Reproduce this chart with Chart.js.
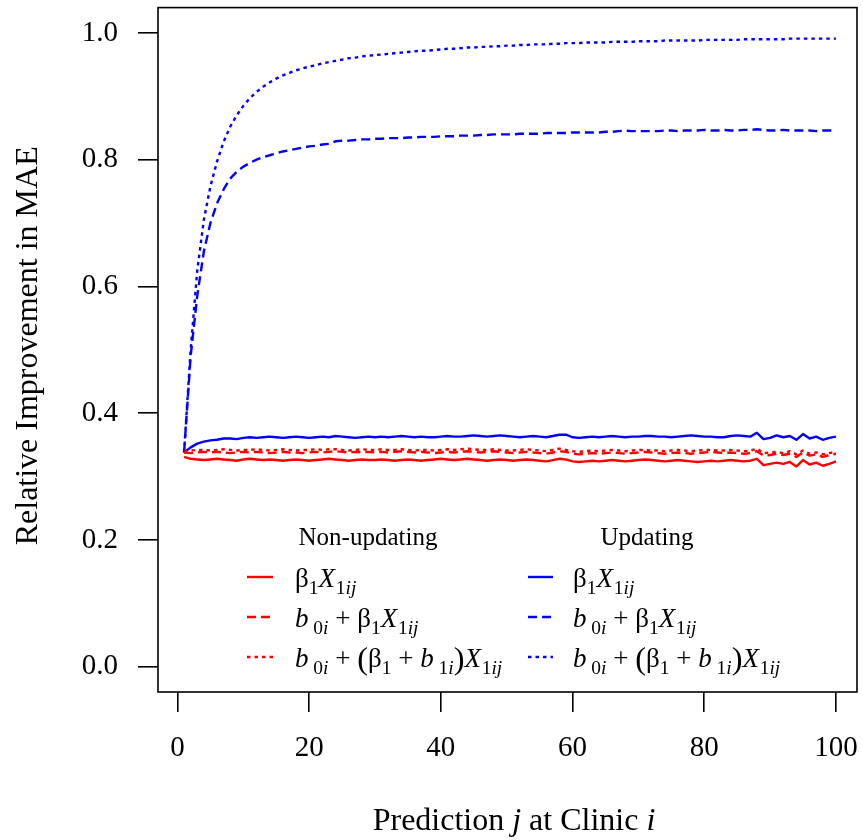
<!DOCTYPE html>
<html>
<head>
<meta charset="utf-8">
<script src="https://cdn.jsdelivr.net/npm/chart.js@4.4.1/dist/chart.umd.min.js"></script>
<style>
html,body{margin:0;padding:0;background:#fff;}
#wrap{width:863px;height:840px;position:relative;}
</style>
</head>
<body>
<div id="wrap"><canvas id="c"></canvas></div>
<script>
// ---------- DATA ----------
const xVals = Array.from({length:100}, (_, i) => i + 1);
const xTicks = [0, 20, 40, 60, 80, 100];
const yTicks = [0.0, 0.2, 0.4, 0.6, 0.8, 1.0];

const nonSolid = [
0.331,0.328,0.327,0.326,0.327,0.328,0.327,0.326,0.325,0.327,
0.328,0.327,0.326,0.327,0.326,0.325,0.326,0.327,0.326,0.325,
0.326,0.327,0.328,0.327,0.326,0.325,0.326,0.327,0.326,0.326,
0.327,0.326,0.325,0.326,0.327,0.326,0.325,0.326,0.327,0.328,
0.327,0.326,0.327,0.328,0.327,0.326,0.325,0.326,0.327,0.326,
0.325,0.326,0.327,0.326,0.325,0.324,0.326,0.328,0.327,0.324,
0.323,0.324,0.325,0.324,0.325,0.326,0.325,0.324,0.325,0.326,
0.327,0.326,0.325,0.324,0.325,0.326,0.325,0.324,0.323,0.324,
0.325,0.324,0.325,0.326,0.325,0.324,0.325,0.328,0.318,0.320,
0.322,0.320,0.323,0.316,0.326,0.319,0.322,0.317,0.320,0.324];

const nonDashed = [
0.338,0.337,0.338,0.339,0.338,0.339,0.338,0.337,0.338,0.339,
0.338,0.339,0.338,0.337,0.338,0.339,0.338,0.338,0.337,0.338,
0.339,0.338,0.339,0.340,0.339,0.338,0.339,0.338,0.339,0.338,
0.339,0.338,0.339,0.340,0.339,0.338,0.339,0.338,0.337,0.338,
0.339,0.338,0.339,0.340,0.339,0.338,0.339,0.340,0.339,0.338,
0.337,0.338,0.339,0.338,0.337,0.336,0.338,0.340,0.339,0.336,
0.335,0.336,0.337,0.336,0.337,0.338,0.337,0.336,0.337,0.338,
0.339,0.338,0.337,0.336,0.337,0.338,0.337,0.336,0.337,0.338,
0.339,0.338,0.337,0.338,0.337,0.336,0.337,0.340,0.333,0.334,
0.336,0.334,0.336,0.331,0.338,0.333,0.335,0.331,0.334,0.336];

const nonDotted = [
0.339,0.341,0.342,0.342,0.341,0.342,0.343,0.342,0.341,0.342,
0.342,0.343,0.342,0.341,0.342,0.343,0.342,0.341,0.342,0.342,
0.343,0.342,0.343,0.343,0.342,0.341,0.342,0.343,0.342,0.342,
0.343,0.342,0.342,0.343,0.342,0.341,0.342,0.342,0.341,0.342,
0.343,0.342,0.343,0.344,0.343,0.342,0.342,0.343,0.342,0.341,
0.341,0.342,0.343,0.342,0.341,0.340,0.342,0.344,0.342,0.340,
0.339,0.340,0.341,0.340,0.341,0.342,0.341,0.340,0.341,0.342,
0.342,0.341,0.341,0.340,0.341,0.342,0.341,0.340,0.341,0.342,
0.342,0.341,0.341,0.342,0.341,0.340,0.341,0.344,0.337,0.338,
0.339,0.337,0.340,0.335,0.341,0.336,0.338,0.335,0.337,0.339];

const updSolid = [
0.338,0.346,0.352,0.355,0.357,0.358,0.360,0.360,0.359,0.361,
0.362,0.361,0.362,0.363,0.362,0.361,0.362,0.363,0.362,0.361,
0.362,0.363,0.362,0.364,0.363,0.362,0.361,0.362,0.363,0.362,
0.363,0.362,0.363,0.364,0.363,0.362,0.363,0.362,0.362,0.363,
0.364,0.363,0.363,0.364,0.365,0.364,0.363,0.364,0.365,0.364,
0.363,0.362,0.363,0.364,0.363,0.362,0.364,0.366,0.366,0.362,
0.361,0.362,0.363,0.362,0.363,0.364,0.363,0.362,0.363,0.363,
0.364,0.364,0.363,0.363,0.362,0.363,0.364,0.365,0.364,0.363,
0.363,0.362,0.362,0.364,0.365,0.364,0.363,0.369,0.359,0.361,
0.365,0.362,0.364,0.358,0.367,0.360,0.363,0.358,0.361,0.363];

const updDashed = [
0.338,0.490,0.585,0.655,0.700,0.731,0.753,0.770,0.781,0.789,
0.795,0.800,0.804,0.807,0.810,0.813,0.815,0.817,0.819,0.821,
0.822,0.824,0.825,0.829,0.830,0.830,0.831,0.832,0.832,0.833,
0.833,0.834,0.834,0.834,0.835,0.835,0.836,0.836,0.836,0.837,
0.837,0.837,0.838,0.838,0.838,0.839,0.839,0.840,0.840,0.840,
0.840,0.841,0.841,0.841,0.841,0.842,0.842,0.842,0.842,0.843,
0.843,0.843,0.843,0.843,0.844,0.844,0.845,0.846,0.845,0.845,
0.845,0.845,0.845,0.846,0.846,0.845,0.846,0.846,0.846,0.847,
0.846,0.846,0.847,0.846,0.846,0.847,0.847,0.848,0.847,0.846,
0.846,0.847,0.846,0.846,0.846,0.846,0.845,0.846,0.846,0.846];

const updDotted = [
0.338,0.500,0.625,0.705,0.758,0.797,0.828,0.852,0.870,0.885,
0.897,0.907,0.915,0.922,0.928,0.933,0.937,0.941,0.944,0.947,
0.949,0.952,0.954,0.956,0.958,0.960,0.961,0.963,0.964,0.965,
0.966,0.967,0.968,0.969,0.970,0.971,0.972,0.972,0.973,0.974,
0.975,0.975,0.976,0.977,0.977,0.978,0.978,0.979,0.979,0.980,
0.980,0.981,0.981,0.982,0.982,0.982,0.983,0.983,0.984,0.984,
0.984,0.985,0.985,0.985,0.985,0.986,0.986,0.986,0.986,0.987,
0.987,0.987,0.987,0.988,0.988,0.988,0.988,0.988,0.988,0.989,
0.989,0.989,0.989,0.989,0.989,0.990,0.990,0.990,0.990,0.990,
0.990,0.990,0.991,0.991,0.991,0.991,0.991,0.991,0.991,0.991];

const headers = ['Non-updating', 'Updating'];
const xTitle = ['Prediction ', 'j', ' at Clinic ', 'i'];
const yTitle = 'Relative Improvement in MAE';

// ---------- STYLE ----------
const RED = '#ff0000', BLUE = '#0000ff';
const SERIF = '"Liberation Serif", "DejaVu Serif", serif';
const DASH = [9, 5];
const DOT = [3.5, 4];
const LW = 2.4;

function pts(arr) { return xVals.map((x, i) => ({x: x, y: arr[i]})); }
function ds(label, arr, color, dash) {
  return {label, data: pts(arr), borderColor: color, borderWidth: LW, borderDash: dash,
          pointRadius: 0, tension: 0, fill: false, borderCapStyle: 'butt', borderJoinStyle: 'round'};
}

// rich text helpers
const N = t => ({t});
const I = (t, gap) => ({t, it: true, gap: gap || 0});
const S = t => ({t, sub: true});
const SI = t => ({t, sub: true, it: true});
const B = t => ({t, big: true});

function drawRich(ctx, segs, x, y, size, align) {
  const fontFor = s => {
    const fs = s.sub ? size * 0.72 : (s.big ? size * 1.2 : size);
    return (s.it ? 'italic ' : '') + fs + 'px ' + SERIF;
  };
  let w = 0;
  for (const s of segs) { ctx.font = fontFor(s); w += ctx.measureText(s.t).width + (s.gap || 0) * size; }
  let cx = align === 'center' ? x - w / 2 : x;
  ctx.textAlign = 'left';
  ctx.textBaseline = 'alphabetic';
  for (const s of segs) {
    ctx.font = fontFor(s);
    const dy = s.sub ? size * 0.27 : (s.big ? size * 0.06 : 0);
    ctx.fillText(s.t, cx, y + dy);
    cx += ctx.measureText(s.t).width + (s.gap || 0) * size;
  }
}

const legendRows = [
  [N('β'), S('1'), I('X', 0.03), S('1'), SI('ij')],
  [I('b', 0.18), S('0'), SI('i'), N(' + '), N('β'), S('1'), I('X', 0.03), S('1'), SI('ij')],
  [I('b', 0.18), S('0'), SI('i'), N(' + '), B('('), N('β'), S('1'), N(' + '), I('b', 0.18), S('1'), SI('i'), B(')'), I('X', 0.03), S('1'), SI('ij')]
];

const framePlugin = {
  id: 'frame',
  afterDraw(chart) {
    const ctx = chart.ctx, a = chart.chartArea;
    ctx.save();
    ctx.strokeStyle = '#000';
    ctx.lineWidth = 1.6;
    ctx.strokeRect(a.left, a.top, a.right - a.left, a.bottom - a.top);
    ctx.fillStyle = '#000';
    // x title
    drawRich(ctx, [N(xTitle[0]), I(xTitle[1]), N(xTitle[2]), I(xTitle[3])], 514, 830, 32, 'center');
    // y title
    ctx.save();
    ctx.translate(37, (a.top + a.bottom) / 2 - 4);
    ctx.rotate(-Math.PI / 2);
    ctx.font = '32px ' + SERIF;
    ctx.textAlign = 'center';
    ctx.textBaseline = 'alphabetic';
    ctx.fillText(yTitle, 0, 0);
    ctx.restore();
    // legend
    const cols = [
      {hx: 368, lx0: 247, lx1: 273, tx: 295, color: RED},
      {hx: 647, lx0: 528, lx1: 553, tx: 573, color: BLUE}
    ];
    const rowBase = [587, 627, 667];
    const dashes = [[], DASH, DOT];
    cols.forEach((c, ci) => {
      ctx.fillStyle = '#000';
      ctx.font = '25px ' + SERIF;
      ctx.textAlign = 'center';
      ctx.textBaseline = 'alphabetic';
      ctx.fillText(headers[ci], c.hx, 545);
      rowBase.forEach((yb, ri) => {
        ctx.save();
        ctx.strokeStyle = c.color;
        ctx.lineWidth = LW;
        ctx.setLineDash(dashes[ri]);
        ctx.beginPath();
        const ly = yb - 10;
        ctx.moveTo(c.lx0, ly);
        ctx.lineTo(c.lx1, ly);
        ctx.stroke();
        ctx.restore();
        ctx.fillStyle = '#000';
        drawRich(ctx, legendRows[ri], c.tx, yb, 27, 'left');
      });
    });
    ctx.restore();
  }
};

function zeroPad(scale) {
  scale.paddingTop = 0; scale.paddingBottom = 0; scale.paddingLeft = 0; scale.paddingRight = 0;
}

new Chart(document.getElementById('c'), {
  type: 'line',
  data: {
    datasets: [
      ds('Non-updating b0i+(β1+b1i)X1ij', nonDotted, RED, DOT),
      ds('Non-updating b0i+β1X1ij', nonDashed, RED, DASH),
      ds('Non-updating β1X1ij', nonSolid, RED, []),
      ds('Updating β1X1ij', updSolid, BLUE, []),
      ds('Updating b0i+β1X1ij', updDashed, BLUE, DASH),
      ds('Updating b0i+(β1+b1i)X1ij', updDotted, BLUE, DOT)
    ]
  },
  options: {
    responsive: true,
    maintainAspectRatio: false,
    animation: false,
    layout: {padding: {top: 7.6, right: 6, left: 0, bottom: 0}},
    plugins: {legend: {display: false}, tooltip: {enabled: false}},
    scales: {
      x: {
        type: 'linear', min: -2.96, max: 103.2,
        afterBuildTicks: s => { s.ticks = xTicks.map(v => ({value: v})); },
        afterFit: s => { s.height = 148; zeroPad(s); },
        ticks: {color: '#000', font: {family: SERIF, size: 29}, padding: 19, maxRotation: 0, autoSkip: false,
                callback: v => String(v)},
        grid: {drawOnChartArea: false, drawTicks: true, tickLength: 20, color: '#000', lineWidth: 1.6},
        border: {display: false}
      },
      y: {
        type: 'linear', min: -0.04, max: 1.04,
        afterBuildTicks: s => { s.ticks = yTicks.map(v => ({value: v})); },
        afterFit: s => { s.width = 158; zeroPad(s); },
        ticks: {color: '#000', font: {family: SERIF, size: 29}, padding: 20, autoSkip: false,
                callback: v => Number(v).toFixed(1)},
        grid: {drawOnChartArea: false, drawTicks: true, tickLength: 20, color: '#000', lineWidth: 1.6},
        border: {display: false}
      }
    }
  },
  plugins: [framePlugin]
});
</script>
</body>
</html>
